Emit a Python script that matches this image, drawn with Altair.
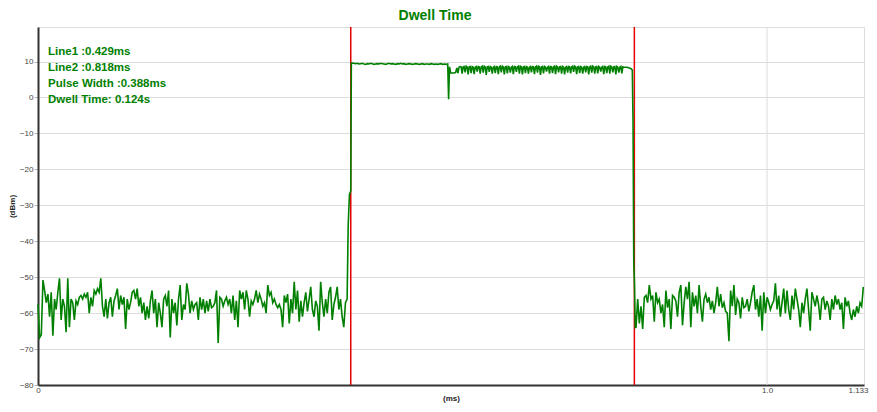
import numpy as np
import pandas as pd
import altair as alt

# ---------------- data ----------------
x_ticks = [0, 1.0, 1.133]
y_ticks = [-80, -70, -60, -50, -40, -30, -20, -10, 0, 10]
x_grid = [1.0]
marker_t = [0.429, 0.818]
ann_lines = ["Line1 :0.429ms", "Line2 :0.818ms", "Pulse Width :0.388ms", "Dwell Time: 0.124s"]
title_text = "Dwell Time"

# noise floor before the pulse (dBm)
pre_start, pre_end = 0.0, 0.4240
pre_vals = [
    -57.5, -66.8, -66.0,
    -50.8, -53.7, -57.1, -54.7, -61.0, -54.2, -66.3, -56.1, -59.0, -54.2,
    -50.3, -61.9, -56.1, -58.1, -65.3, -50.3, -63.9, -56.1, -57.1, -61.9,
    -56.6, -57.6, -55.6, -55.1, -56.1, -54.7, -55.6, -54.2, -60.0, -55.6,
    -58.1, -53.7, -54.7, -53.2, -54.2, -50.3, -58.1, -61.0, -56.1, -61.5,
    -57.1, -55.6, -61.0, -56.6, -55.1, -53.2, -59.0, -55.1, -57.6, -55.6,
    -64.4, -56.1, -59.0, -57.1, -54.2, -53.7, -56.1, -53.2, -58.1, -55.6,
    -60.0, -57.1, -61.9, -58.1, -61.5, -56.6, -53.7, -60.0, -56.1, -63.9,
    -57.1, -60.0, -63.9, -56.1, -55.1, -58.1, -53.7, -66.8, -56.1, -60.0,
    -57.1, -63.4, -56.1, -52.2, -61.9, -57.6, -59.0, -51.7, -54.7, -60.0,
    -56.6, -59.0, -57.6,
    -57.1, -61.9, -55.6, -59.0, -56.1, -60.0, -56.6, -59.5, -56.1, -58.5,
    -58.1, -57.1, -53.7, -68.3, -55.6, -56.1, -58.1, -56.6, -55.6, -57.6,
    -56.1, -60.0, -55.1, -61.9, -56.6, -63.9, -53.7, -56.1, -54.2, -59.0,
    -53.7, -56.1, -61.0, -56.6, -57.6, -56.1, -53.7, -57.1, -54.7, -56.1,
    -58.1, -57.1, -60.0, -52.2, -55.1, -54.2, -57.1, -56.1, -57.6, -58.5,
    -57.6, -59.0, -63.9, -55.1, -57.1, -54.7, -62.9, -56.1, -60.0, -51.3,
    -59.0, -53.7, -62.4, -56.6, -61.0, -57.1, -54.2, -59.5, -56.1, -52.7,
    -59.0, -61.0, -56.6, -58.1, -64.9, -51.3, -57.1, -61.0, -56.1, -60.0,
    -54.2, -52.7, -61.9, -57.6, -55.6, -52.7, -59.0, -56.1, -61.0, -63.9,
    -57.1, -56.1,
]

# rising edge
rise_t = [0.4255, 0.4272, 0.4290, 0.4298]
rise_v = [-35.5, -27.0, -26.0, 9.6]

# flat top of the pulse
top_start, top_end = 0.4310, 0.5620
top_vals = [
    9.6, 9.5, 9.4, 9.5, 9.3, 9.4, 9.5, 9.3, 9.2, 9.4, 9.3, 9.5, 9.4, 9.2, 9.3,
    9.4, 9.3, 9.5, 9.4, 9.3, 9.2, 9.4, 9.5, 9.3, 9.4, 9.3, 9.2, 9.4, 9.3, 9.5,
    9.3, 9.4, 9.2, 9.3, 9.4, 9.3, 9.2, 9.3, 9.4, 9.3, 9.2, 9.3, 9.4, 9.2, 9.3,
    9.3, 9.2, 9.4, 9.3, 9.2, 9.3, 9.2, 9.3, 9.4, 9.2, 9.3, 9.2, 9.3,
]

# dip and step after the flat part
gap_t = [0.5632, 0.5645, 0.5660, 0.5700, 0.5728, 0.5745, 0.5760, 0.5775]
gap_v = [-0.5, 8.5, 6.8, 6.8, 6.9, 8.2, 6.8, 8.4]

# dense ripple part of the pulse (flat top with narrow dips)
dense_start, dense_end = 0.5790, 0.8050
dense_vals = [
    8.6, 8.5, 6.6, 8.5, 8.6, 7.0, 8.7, 8.5, 6.4, 8.5, 8.6, 6.8, 8.6, 8.4, 6.5,
    8.4, 8.6, 7.2, 8.6, 8.5, 6.6, 8.5, 8.7, 6.9, 8.7, 8.5, 6.3, 8.5, 8.6, 7.1,
    8.6, 8.4, 6.6, 8.4, 8.6, 6.8, 8.6, 8.5, 6.5, 8.5, 8.7, 7.0, 8.7, 8.5, 6.4,
    8.5, 8.6, 6.7, 8.6, 8.4, 6.9, 8.4, 8.6, 6.5, 8.6, 8.5, 7.1, 8.5, 8.7, 6.6,
    8.7, 8.5, 6.4, 8.5, 8.6, 6.8, 8.6, 8.4, 6.6, 8.4, 8.6, 7.0, 8.6, 8.5, 6.5,
    8.5, 8.7, 6.9, 8.7, 8.5, 6.3, 8.5, 8.6, 6.7, 8.6, 8.4, 7.2, 8.4, 8.6, 6.6,
    8.6, 8.5, 6.8, 8.5, 8.7, 6.5, 8.7, 8.5, 7.0, 8.5, 8.6, 6.6, 8.6, 8.4, 6.4,
    8.4, 8.6, 6.9, 8.6, 8.5, 6.7, 8.5, 8.7, 7.1, 8.7, 8.5, 6.5, 8.5, 8.6, 6.8,
    8.6, 8.4, 6.6, 8.4, 8.6, 7.0, 8.6, 8.5, 6.4, 8.5, 8.7, 6.9, 8.7, 8.5, 6.6,
    8.5, 8.6, 6.7, 8.6, 8.4, 7.2, 8.4, 8.6, 6.5, 8.6, 8.5, 6.8, 8.5, 8.7, 6.6,
    8.7, 8.5, 7.0, 8.5, 8.6, 6.4, 8.6, 8.4, 6.9, 8.4, 8.6, 6.7, 8.5, 8.4, 8.4,
]

# falling edge
fall_t = [0.8080, 0.8110, 0.8135, 0.8152, 0.8162, 0.8172, 0.8182, 0.8192]
fall_v = [8.4, 8.2, 8.0, 7.6, -7.0, -46.0, -52.0, -64.0]

# noise floor after the pulse
post_start, post_end = 0.8203, 1.1321
post_vals = [
    -63.9, -56.1, -62.9, -58.1, -64.4, -55.6, -55.1, -57.1, -52.2, -56.1,
    -55.1, -62.4, -54.2, -57.1, -56.1, -60.0, -57.6, -63.9, -53.7, -58.5,
    -56.1, -64.4, -55.1, -55.6, -56.6, -61.0, -54.2, -52.2, -63.4, -57.1,
    -52.7, -56.1, -51.3, -63.9, -54.2, -58.1, -55.1, -60.0, -52.2, -58.1,
    -62.4, -56.1, -54.7, -57.1, -55.6, -59.0, -56.6, -60.0, -57.1, -52.7,
    -58.1, -54.7, -58.5, -57.1, -59.5, -60.0, -67.8, -53.7, -58.1, -52.2,
    -60.5, -56.1, -57.1, -61.5, -55.6, -58.5, -58.1, -56.1, -59.5, -57.1,
    -54.2, -52.2, -59.0, -56.1, -61.0, -55.1, -64.9, -54.2, -60.0, -55.6,
    -57.1, -59.0, -57.6, -56.6, -51.7, -59.0, -55.1, -61.0, -57.1, -53.2,
    -60.0, -53.7, -59.0, -61.9, -55.1, -59.0, -53.2, -56.1, -59.0, -63.9,
    -57.1, -60.0, -56.1, -53.2, -59.0, -64.9, -54.2, -56.1, -58.1, -55.1,
    -57.6, -61.9, -56.1, -55.6, -59.0, -56.6, -58.1, -61.9, -56.1, -59.0,
    -55.1, -57.6, -56.1, -59.0, -57.1, -64.4, -55.6, -58.1, -56.6, -60.0,
    -61.9, -59.0, -61.0, -58.1, -60.0, -57.1, -58.1, -52.7,
]

# ---------------- assemble trace ----------------
t_parts = [
    np.linspace(pre_start, pre_end, len(pre_vals)),
    np.array(rise_t),
    np.linspace(top_start, top_end, len(top_vals)),
    np.array(gap_t),
    np.linspace(dense_start, dense_end, len(dense_vals)),
    np.array(fall_t),
    np.linspace(post_start, post_end, len(post_vals)),
]
v_parts = [pre_vals, rise_v, top_vals, gap_v, dense_vals, fall_v, post_vals]
trace = pd.DataFrame({
    "t": np.concatenate(t_parts),
    "v": np.concatenate([np.array(p, dtype=float) for p in v_parts]),
})
trace["i"] = np.arange(len(trace))

GREEN = "#008000"
FONT = "Liberation Sans"

x_enc = alt.X(
    "t:Q",
    scale=alt.Scale(domain=[0, 1.133], nice=False, zero=False),
    axis=alt.Axis(
        values=x_ticks,
        labelExpr="datum.value == 0 ? '0' : (datum.value == 1 ? '1.0' : format(datum.value, '.3f'))",
        labelAlign={"condition": {"test": "datum.value > 1.1", "value": "right"}, "value": "center"},
        labelOffset={"condition": {"test": "datum.value > 1.1", "value": 4}, "value": 0},
        title="(ms)",
        grid=False,
        ticks=False,
        labelFlush=False,
        labelOverlap=False,
        labelPadding=1,
        labelFontSize=8,
        labelColor="#444",
        labelFont=FONT,
        titleFont=FONT,
        titleFontSize=8,
        titleFontWeight="bold",
        titleColor="#222",
        titlePadding=0,
        domainColor="#333",
        domainWidth=2,
    ),
)
y_enc = alt.Y(
    "v:Q",
    scale=alt.Scale(domain=[-80, 19.6], nice=False, zero=False),
    axis=alt.Axis(
        values=y_ticks,
        title="(dBm)",
        grid=True,
        gridColor="#dcdcdc",
        gridWidth=1,
        ticks=True,
        tickSize=4,
        tickColor="#bbbbbb",
        labelPadding=1,
        labelFontSize=8,
        labelColor="#444",
        labelFont=FONT,
        titleFont=FONT,
        titleFontSize=8,
        titleFontWeight="bold",
        titleColor="#222",
        titlePadding=3,
        domainColor="#333",
        domainWidth=2,
    ),
)

grid_layer = alt.Chart(pd.DataFrame({"t": x_grid})).mark_rule(
    color="#dcdcdc", strokeWidth=1
).encode(x=x_enc)

marker_layer = alt.Chart(pd.DataFrame({"t": marker_t})).mark_rule(
    color="#e60000", strokeWidth=1.5
).encode(x=x_enc)

line_layer = alt.Chart(trace).mark_line(
    color=GREEN, strokeWidth=1.6, interpolate="linear"
).encode(x=x_enc, y=y_enc, order="i:Q")

text_layers = []
for k, s in enumerate(ann_lines):
    text_layers.append(
        alt.Chart(pd.DataFrame({"txt": [s]})).mark_text(
            align="left", baseline="middle", font=FONT, fontSize=11.5,
            fontWeight="bold", color=GREEN
        ).encode(text="txt:N", x=alt.value(10), y=alt.value(25 + 16 * k))
    )

chart = alt.layer(grid_layer, marker_layer, line_layer, *text_layers).properties(
    width=826,
    height=358,
    title=alt.TitleParams(
        text=title_text, font=FONT, fontSize=14, fontWeight="bold",
        color=GREEN, anchor="middle", dx=-16, offset=3
    ),
    autosize=alt.AutoSizeParams(type="none"),
    padding={"left": 30, "top": 19, "right": 5, "bottom": 19},
).configure_view(
    stroke="#999999", strokeWidth=1.5
).configure(background="white")

chart.save("out.html", embed_options={"renderer": "svg", "actions": False})
